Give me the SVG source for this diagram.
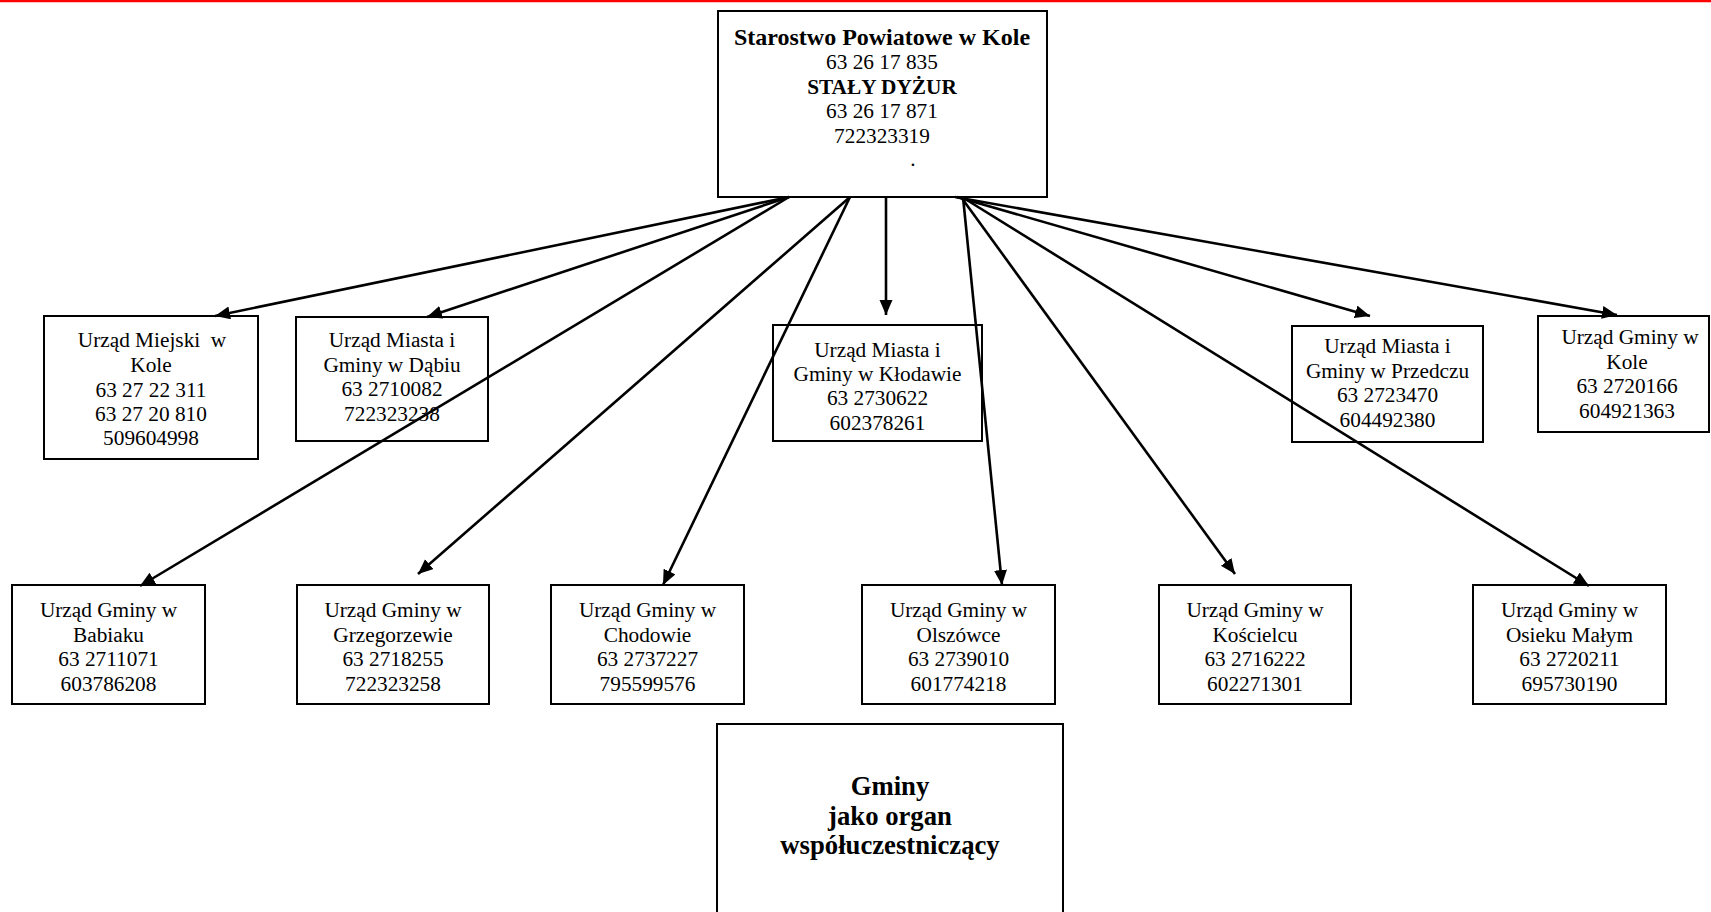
<svg xmlns="http://www.w3.org/2000/svg" width="1711" height="912" viewBox="0 0 1711 912">
<defs>
<marker id="ah" markerUnits="userSpaceOnUse" markerWidth="16" markerHeight="14" refX="15" refY="6.5" orient="auto">
<path d="M0,0 L15,6.5 L0,13 z" fill="#000"/>
</marker>
<style>
rect.box{fill:none;stroke:#000;stroke-width:2}
text{font-family:"Liberation Serif","Times New Roman",serif;font-size:21.3px;fill:#000;text-anchor:middle}
text.b{font-weight:bold}
#connectors line{stroke:#000;stroke-width:2.6;marker-end:url(#ah)}
</style>
</defs>
<rect width="1711" height="912" fill="#fff"/>
<line x1="0" y1="1" x2="1711" y2="1" stroke="#ff0000" stroke-width="2.5"/>
<g id="starostwo">
<rect class="box" x="718" y="11" width="329" height="186"/>
<text class="b" x="882" y="45" style="font-size:24px">Starostwo Powiatowe w Kole</text>
<text x="882" y="69">63 26 17 835</text>
<text class="b" x="882" y="93.5">STAŁY DYŻUR</text>
<text x="882" y="118">63 26 17 871</text>
<text x="882" y="143">722323319</text>
<text x="913" y="166">.</text>
</g>
<g id="um-kolo">
<rect class="box" x="44" y="316" width="214" height="143"/>
<text x="152" y="347" xml:space="preserve">Urząd Miejski  w</text>
<text x="151" y="372">Kole</text>
<text x="151" y="397">63 27 22 311</text>
<text x="151" y="421">63 27 20 810</text>
<text x="151" y="445">509604998</text>
</g>
<g id="umig-dabie">
<rect class="box" x="296" y="317" width="192" height="124"/>
<text x="392" y="347">Urząd Miasta i</text>
<text x="392" y="371.5">Gminy w Dąbiu</text>
<text x="392" y="396">63 2710082</text>
<text x="392" y="420.5">722323238</text>
</g>
<g id="umig-klodawa">
<rect class="box" x="773" y="325" width="209" height="116"/>
<text x="877.5" y="356.5">Urząd Miasta i</text>
<text x="877.5" y="381">Gminy w Kłodawie</text>
<text x="877.5" y="405">63 2730622</text>
<text x="877.5" y="429.5">602378261</text>
</g>
<g id="umig-przedecz">
<rect class="box" x="1292" y="326" width="191" height="116"/>
<text x="1387.5" y="353">Urząd Miasta i</text>
<text x="1387.5" y="377.5">Gminy w Przedczu</text>
<text x="1387.5" y="402">63 2723470</text>
<text x="1387.5" y="426.5">604492380</text>
</g>
<g id="ug-kolo">
<rect class="box" x="1538" y="316" width="171" height="116"/>
<text x="1630" y="344">Urząd Gminy w</text>
<text x="1627" y="368.5">Kole</text>
<text x="1627" y="393">63 2720166</text>
<text x="1627" y="417.5">604921363</text>
</g>
<g id="ug-babiak">
<rect class="box" x="12" y="585" width="193" height="119"/>
<text x="108.5" y="617">Urząd Gminy w</text>
<text x="108.5" y="641.5">Babiaku</text>
<text x="108.5" y="666">63 2711071</text>
<text x="108.5" y="690.5">603786208</text>
</g>
<g id="ug-grzegorzew">
<rect class="box" x="297" y="585" width="192" height="119"/>
<text x="393" y="617">Urząd Gminy w</text>
<text x="393" y="641.5">Grzegorzewie</text>
<text x="393" y="666">63 2718255</text>
<text x="393" y="690.5">722323258</text>
</g>
<g id="ug-chodow">
<rect class="box" x="551" y="585" width="193" height="119"/>
<text x="647.5" y="617">Urząd Gminy w</text>
<text x="647.5" y="641.5">Chodowie</text>
<text x="647.5" y="666">63 2737227</text>
<text x="647.5" y="690.5">795599576</text>
</g>
<g id="ug-olszowka">
<rect class="box" x="862" y="585" width="193" height="119"/>
<text x="958.5" y="617">Urząd Gminy w</text>
<text x="958.5" y="641.5">Olszówce</text>
<text x="958.5" y="666">63 2739010</text>
<text x="958.5" y="690.5">601774218</text>
</g>
<g id="ug-koscielec">
<rect class="box" x="1159" y="585" width="192" height="119"/>
<text x="1255" y="617">Urząd Gminy w</text>
<text x="1255" y="641.5">Kościelcu</text>
<text x="1255" y="666">63 2716222</text>
<text x="1255" y="690.5">602271301</text>
</g>
<g id="ug-osiek">
<rect class="box" x="1473" y="585" width="193" height="119"/>
<text x="1569.5" y="617">Urząd Gminy w</text>
<text x="1569.5" y="641.5">Osieku Małym</text>
<text x="1569.5" y="666">63 2720211</text>
<text x="1569.5" y="690.5">695730190</text>
</g>
<g id="gminy">
<rect class="box" x="717" y="724" width="346" height="200"/>
<text class="b" x="890" y="795" style="font-size:26.7px">Gminy</text>
<text class="b" x="890" y="825" style="font-size:26.7px">jako organ</text>
<text class="b" x="890" y="854" style="font-size:26.7px">współuczestniczący</text>
</g>
<g id="connectors">
<line x1="789" y1="197" x2="215" y2="316"/>
<line x1="789" y1="197" x2="427" y2="317"/>
<line x1="789" y1="197" x2="140" y2="586"/>
<line x1="850" y1="197" x2="418" y2="574"/>
<line x1="850" y1="197" x2="663" y2="585"/>
<line x1="886" y1="197" x2="886" y2="315"/>
<line x1="963" y1="197" x2="1002" y2="585"/>
<line x1="961" y1="197" x2="1235" y2="574"/>
<line x1="962" y1="197" x2="1589" y2="586"/>
<line x1="957" y1="197" x2="1370" y2="316"/>
<line x1="955" y1="197" x2="1617" y2="315"/>
</g>
</svg>
